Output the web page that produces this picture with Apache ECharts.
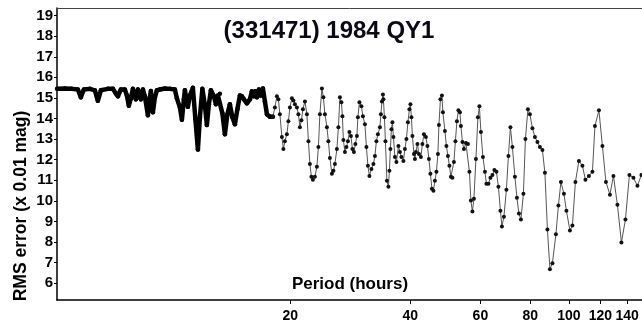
<!DOCTYPE html>
<html><head><meta charset="utf-8">
<script src="https://cdn.jsdelivr.net/npm/echarts@6/dist/echarts.min.js"></script>
<style>html,body{margin:0;padding:0;background:#fff}#c{width:642px;height:323px}</style>
</head><body><div id="c"></div>
<script>
const chartTitle = '(331471) 1984 QY1';
const xTitle = 'Period (hours)';
const yTitle = 'RMS error (x 0.01 mag)';
const xTickValues = [20, 40, 60, 80, 100, 120, 140];
const yTickValues = [6, 7, 8, 9, 10, 11, 12, 13, 14, 15, 16, 17, 18, 19];

// Short-period part of the spectrum (densely sampled, drawn as a heavy band)
const densePeriods = [5.2, 5.442, 5.666, 5.866, 5.968, 6.073, 6.287, 6.471, 6.584, 6.700,
  6.976, 7.180, 7.306, 7.391, 7.520, 7.696, 7.786, 7.876, 7.968, 8.060,
  8.154, 8.201, 8.297, 8.393, 8.442, 8.540, 8.639, 8.790, 8.892, 8.944,
  9.047, 9.153, 9.259, 9.421, 9.697, 9.981, 10.273, 10.393, 10.575, 10.698,
  10.822, 10.885, 11.075, 11.204, 11.400, 11.566, 11.734, 11.870, 12.043, 12.218,
  12.360, 12.503, 12.649, 12.870, 13.020, 13.171, 13.324, 13.518, 13.714, 13.914,
  14.116, 14.321, 14.530, 14.741, 14.956, 15.130, 15.306, 15.573, 15.845, 16.029,
  16.215, 16.356, 16.499, 16.691, 16.885, 17.081, 17.280, 17.481, 17.786, 18.097];
const denseRms = [15.44, 15.46, 15.44, 15.41, 15.03, 15.41, 15.44, 15.37, 14.86, 15.37,
  15.44, 15.44, 15.22, 15.08, 15.41, 15.41, 15.12, 14.62, 14.98, 15.44,
  15.08, 14.93, 15.41, 15.12, 14.93, 15.41, 15.08, 14.16, 15.03, 15.34,
  14.30, 15.03, 15.37, 15.41, 15.46, 15.44, 15.41, 14.98, 14.54, 13.94,
  14.93, 15.37, 14.57, 15.12, 15.49, 13.97, 12.49, 14.06, 15.44, 14.64,
  13.68, 14.69, 15.37, 15.08, 14.69, 15.12, 15.20, 14.25, 13.24, 14.21,
  14.69, 14.06, 13.72, 14.45, 15.12, 15.08, 14.93, 14.74, 14.93, 15.32,
  15.08, 15.32, 15.03, 15.41, 15.12, 15.46, 14.83, 14.21, 14.09, 14.09];

// Longer periods (individual points visible)
const periods = [18.097, 18.307, 18.520, 18.681, 18.844, 19.063, 19.229, 19.396, 19.622, 19.792,
  19.965, 20.197, 20.373, 20.550, 20.789, 20.970, 21.153, 21.337, 21.523, 21.773,
  22.026, 22.218, 22.410, 22.605, 22.802, 23.067, 23.335, 23.538, 23.743, 24.019,
  24.228, 24.439, 24.723, 24.938, 25.155, 25.447, 25.669, 25.892, 26.193, 26.421,
  26.651, 26.883, 27.039, 27.195, 27.432, 27.671, 27.912, 28.154, 28.400, 28.647,
  28.896, 29.147, 29.401, 29.571, 29.829, 30.176, 30.438, 30.792, 31.060, 31.330,
  31.603, 31.970, 32.341, 32.623, 32.907, 33.193, 33.579, 33.774, 33.969, 34.166,
  34.265, 34.463, 34.663, 34.965, 35.269, 35.473, 35.679, 35.886, 36.093, 36.303,
  36.618, 36.937, 37.366, 37.691, 38.020, 38.461, 38.795, 39.133, 39.474, 39.817,
  40.048, 40.281, 40.514, 40.866, 41.103, 41.341, 41.701, 42.064, 42.552, 42.922,
  43.296, 43.799, 44.180, 44.565, 44.953, 45.344, 45.738, 46.136, 46.538, 46.943,
  47.215, 47.626, 48.041, 48.319, 48.881, 49.306, 49.735, 50.168, 50.604, 51.045,
  51.489, 51.937, 52.389, 52.845, 53.305, 53.614, 54.080, 54.551, 55.185, 55.826,
  56.312, 56.802, 57.296, 57.795, 58.467, 59.146, 59.661, 60.180, 60.879, 61.586,
  62.122, 62.844, 63.575, 64.314, 65.061, 65.818, 66.582, 67.355, 67.941, 68.731,
  69.731, 70.541, 71.361, 72.190, 73.240, 74.091, 74.952, 75.824, 76.927, 77.821,
  78.953, 79.870, 81.032, 82.210, 83.406, 84.620, 85.851, 87.100, 88.367, 89.652,
  90.956, 92.814, 94.164, 95.533, 97.203, 98.617, 100.63, 102.09, 103.88, 106.00,
  108.17, 110.06, 112.31, 114.60, 116.27, 118.99, 121.41, 123.89, 126.79, 129.38,
  132.40, 135.50, 138.67, 141.91, 145.23, 148.62, 152.09];
const rms = [14.09, 14.54, 15.08, 14.93, 14.21, 13.10, 12.52, 12.90, 13.24, 13.87,
  14.54, 14.98, 14.88, 14.69, 14.54, 14.21, 13.58, 13.92, 14.45, 14.83,
  14.21, 12.90, 11.79, 11.17, 11.02, 11.17, 11.65, 12.61, 14.21, 15.46,
  15.03, 14.21, 13.58, 12.90, 12.08, 11.31, 11.46, 11.79, 12.52, 13.58,
  15.03, 14.79, 14.11, 12.95, 12.37, 12.61, 12.90, 13.34, 13.15, 12.52,
  12.37, 12.76, 13.15, 14.06, 14.79, 14.59, 14.11, 13.72, 12.61, 11.70,
  11.21, 11.55, 11.79, 12.18, 12.90, 13.24, 13.58, 14.21, 14.83, 15.17,
  14.93, 14.06, 12.90, 10.97, 10.68, 11.46, 12.52, 13.48, 13.82, 13.10,
  12.13, 11.89, 12.66, 12.37, 12.13, 11.94, 12.52, 13.00, 13.82, 14.45,
  14.69, 14.06, 13.15, 12.28, 12.03, 12.37, 12.76, 12.28, 12.13, 12.76,
  13.24, 13.10, 12.66, 12.03, 11.31, 10.59, 10.49, 10.97, 11.41, 12.28,
  13.68, 14.93, 15.12, 14.30, 13.39, 12.66, 12.18, 11.70, 11.17, 11.12,
  11.89, 12.90, 13.87, 14.40, 14.30, 13.63, 12.86, 12.52, 12.81, 12.76,
  11.41, 10.01, 9.48, 10.10, 12.03, 14.06, 14.59, 13.34, 12.13, 11.41,
  10.83, 10.83, 11.12, 11.26, 11.50, 11.41, 10.68, 9.52, 8.75, 9.23,
  10.54, 12.18, 13.58, 12.61, 11.17, 10.15, 9.38, 9.09, 10.34, 13.00,
  14.45, 14.21, 13.53, 13.10, 12.86, 12.61, 12.47, 11.36, 8.61, 6.68,
  6.97, 8.37, 9.77, 10.92, 10.34, 9.52, 8.56, 8.80, 10.92, 11.94,
  11.70, 11.02, 11.21, 11.41, 13.63, 14.40, 12.66, 10.92, 10.30, 11.21,
  9.81, 7.98, 9.09, 11.26, 11.12, 10.73, 11.26];

const FONT = '"Liberation Sans", Arial, Helvetica, sans-serif';
const zip = (a, b) => a.map((v, i) => [v, b[i]]);

const chart = echarts.init(document.getElementById('c'), null, {renderer: 'canvas'});
chart.setOption({
  animation: false,
  backgroundColor: '#fff',
  grid: {left: 57, right: 0, top: 8, bottom: 21, containLabel: false},
  xAxis: [{
    type: 'log', logBase: 10, min: 5.2, max: 152.6,
    axisLine: {show: true, lineStyle: {color: '#000', width: 1.5}},
    axisTick: {show: true, length: 4, customValues: xTickValues, lineStyle: {color: '#000'}},
    axisLabel: {show: true, customValues: xTickValues, margin: 9, color: '#000',
      fontFamily: FONT, fontWeight: 'bold', fontSize: 14},
    splitLine: {show: false}, minorTick: {show: false}
  }, {
    type: 'log', logBase: 10, min: 5.2, max: 152.6, position: 'top',
    axisLine: {show: true, lineStyle: {color: '#444', width: 1}},
    axisTick: {show: false}, axisLabel: {show: false}, splitLine: {show: false}
  }],
  yAxis: {
    type: 'value', min: 5.18, max: 19.37,
    axisLine: {show: true, lineStyle: {color: '#000', width: 1.5}},
    axisTick: {show: true, length: 3, customValues: yTickValues, lineStyle: {color: '#000'}},
    axisLabel: {show: true, customValues: yTickValues, margin: 4, color: '#000',
      fontFamily: FONT, fontWeight: 'bold', fontSize: 15},
    splitLine: {show: false}
  },
  series: [{
    type: 'line', xAxisIndex: 0, data: zip(densePeriods, denseRms),
    showSymbol: true, symbol: 'circle', symbolSize: 4.5,
    itemStyle: {color: '#000'},
    lineStyle: {color: '#000', width: 4.5, join: 'round'}, silent: true
  }, {
    type: 'line', xAxisIndex: 0, data: zip(periods, rms),
    showSymbol: true, symbol: 'circle', symbolSize: 4,
    itemStyle: {color: '#111'},
    lineStyle: {color: '#555', width: 1}, silent: true
  }],
  graphic: [{
    type: 'text', x: 329, y: 31,
    style: {text: chartTitle, font: 'bold 24px ' + FONT, fill: '#0a0a14',
      textAlign: 'center', textVerticalAlign: 'middle'}
  }, {
    type: 'text', x: 350, y: 284,
    style: {text: xTitle, font: 'bold 17px ' + FONT, fill: '#000',
      textAlign: 'center', textVerticalAlign: 'middle'}
  }, {
    type: 'text', x: 21, y: 206, rotation: Math.PI / 2,
    style: {text: yTitle, font: 'bold 17.5px ' + FONT, fill: '#000',
      textAlign: 'center', textVerticalAlign: 'middle'}
  }]
});
</script>
</body></html>
